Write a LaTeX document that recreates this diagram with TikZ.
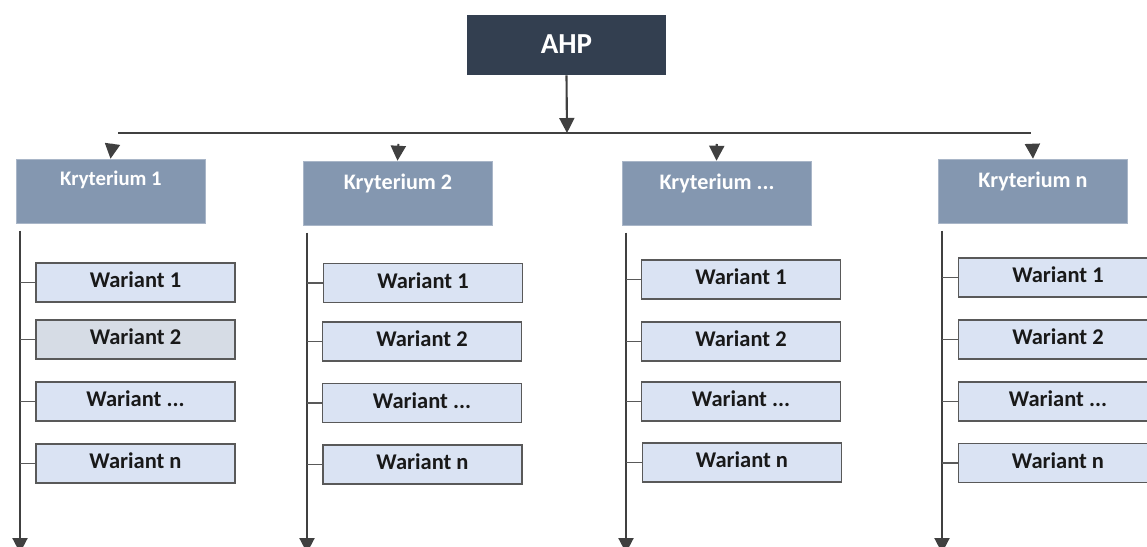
\documentclass[tikz,border=0pt]{standalone}
\usepackage{fontspec}
\setmainfont{Carlito}
\usetikzlibrary{arrows.meta}
\definecolor{ahpc}{HTML}{333F50}
\definecolor{kryc}{HTML}{8497B0}
\definecolor{warc}{HTML}{DAE3F3}
\definecolor{warg}{HTML}{D6DCE5}
\definecolor{linec}{HTML}{404040}
\definecolor{borc}{HTML}{595959}
\begin{document}
\begin{tikzpicture}[x=0.02cm,y=-0.02cm,
  ahpbox/.style={fill=ahpc, minimum width=3.98cm, minimum height=1.2cm, inner sep=0pt},
  krybox/.style={fill=kryc, draw=kryc!70!white, line width=0.3pt, minimum width=3.78cm, minimum height=1.28cm, inner sep=0pt},
  krytext/.style={text=white, font=\bfseries\fontsize{12.6}{14}\selectfont, inner sep=0pt},
  warbox/.style={fill=warc, draw=borc, line width=1.1pt, minimum width=3.98cm, minimum height=0.78cm, inner sep=0pt, text depth=0.3em, text=black!90, font=\bfseries\fontsize{12.8}{15}\selectfont},
  bus/.style={draw=linec, line width=1.6pt},
  tri/.style={-{Triangle[length=0.3cm,width=0.3cm]}, draw=linec, line width=1.2pt, fill=linec},
  kryarr/.style={tri, shorten <=0.22cm},
  tick/.style={draw=borc, line width=1.1pt}
]
\useasboundingbox (0,0) rectangle (1147,547);

% AHP
\node[ahpbox] (ahp) at (566.5,45) {};
\node[text=white, font=\bfseries\fontsize{16.5}{18}\selectfont, inner sep=0pt] (ahpt) at (566.5,44) {AHP};

% bus
\coordinate (bl) at (118,133);
\coordinate (br) at (1031,133);
\coordinate (bm) at (567,133);
\draw[bus] (bl) -- (br);
\draw[tri] (ahp.south) -- (bm);

% criteria
\node[krybox] (k1) at (110.5,191) {};
\node[krybox] (k2) at (397.5,193) {};
\node[krybox] (k3) at (716.5,193) {};
\node[krybox] (k4) at (1033,191) {};
\node[krytext, font=\bfseries\fontsize{11.8}{13}\selectfont] (k1t) at (111,180) {Kryterium 1};
\node[krytext] (k2t) at (398,183) {Kryterium 2};
\node[krytext] (k3t) at (717,183) {Kryterium ...};
\node[krytext] (k4t) at (1033,181) {Kryterium n};

\coordinate (a1) at (114,133);
\coordinate (a2) at (399,133);
\coordinate (a3) at (717,133);
\coordinate (a4) at (1032,133);
\draw[kryarr] (a1) -- (k1.north);
\draw[kryarr] (a2) -- (k2.north);
\draw[kryarr] (a3) -- (k3.north);
\draw[kryarr] (a4) -- (k4.north);

% column spines
\coordinate (s1t) at (20,231);  \coordinate (s1b) at (20,553);
\coordinate (s2t) at (307,233); \coordinate (s2b) at (307,553);
\coordinate (s3t) at (626,233); \coordinate (s3b) at (626,553);
\coordinate (s4t) at (942,231); \coordinate (s4b) at (942,553);
\draw[tri] (s1t) -- (s1b);
\draw[tri] (s2t) -- (s2b);
\draw[tri] (s3t) -- (s3b);
\draw[tri] (s4t) -- (s4b);

% variants column 1
\node[warbox] (v11) at (135.5,282.5) {Wariant 1};
\node[warbox, fill=warg] (v12) at (135.5,339.5) {Wariant 2};
\node[warbox] (v13) at (135.5,401.5) {Wariant ...};
\node[warbox] (v14) at (135.5,463.5) {Wariant n};
% column 2
\node[warbox] (v21) at (423,283) {Wariant 1};
\node[warbox] (v22) at (422,341.5) {Wariant 2};
\node[warbox] (v23) at (422,403) {Wariant ...};
\node[warbox] (v24) at (422.5,464.5) {Wariant n};
% column 3
\node[warbox] (v31) at (741,279.5) {Wariant 1};
\node[warbox] (v32) at (741,341.5) {Wariant 2};
\node[warbox] (v33) at (741,401.5) {Wariant ...};
\node[warbox] (v34) at (742,462.5) {Wariant n};
% column 4
\node[warbox] (v41) at (1058,277.5) {Wariant 1};
\node[warbox] (v42) at (1058,339.5) {Wariant 2};
\node[warbox] (v43) at (1058,401.5) {Wariant ...};
\node[warbox] (v44) at (1058,463) {Wariant n};

% ticks
\foreach \c/\x in {1/20,2/307,3/626,4/942}{
  \foreach \r in {1,2,3,4}{
    \draw[tick] (v\c\r.west -| \x,0) -- (v\c\r.west);
  }
}
\end{tikzpicture}
\end{document}
